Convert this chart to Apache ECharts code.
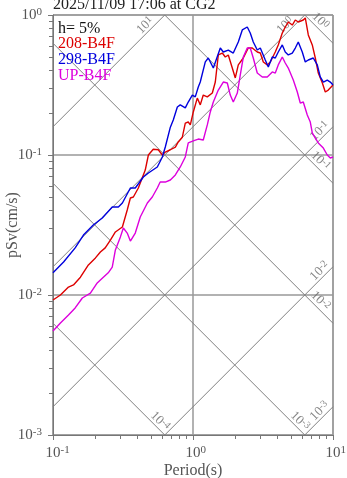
<!DOCTYPE html>
<html><head><meta charset="utf-8">
<script src="https://cdn.jsdelivr.net/npm/echarts@6/dist/echarts.min.js"></script>
<style>html,body{margin:0;padding:0;background:#fff}#c{width:347px;height:478px}</style>
</head><body><div id="c"></div>
<script>
const titleText = '2025/11/09 17:06 at CG2';
const dampingText = 'h= 5%';
const xName = 'Period(s)';
const yName = 'pSv(cm/s)';
const minorTicksX = [0.2,0.3,0.4,0.5,0.6,0.7,0.8,0.9,2,3,4,5,6,7,8,9];
const minorTicksY = [0.002,0.003,0.004,0.005,0.006,0.007,0.008,0.009,0.02,0.03,0.04,0.05,0.06,0.07,0.08,0.09,0.2,0.3,0.4,0.5,0.6,0.7,0.8,0.9];
const dispLevels = [1e-4, 1e-3, 1e-2, 1e-1, 1];   // Sd (cm)
const accLevels = [1e-3, 1e-2, 1e-1, 1, 10];      // Sa (cm/s2)

const periods208 = [0.1,0.113,0.129,0.14,0.157,0.179,0.201,0.218,0.236,0.257,0.279,0.313,0.339,0.357,0.375,0.407,0.42,0.456,0.48,0.52,0.565,0.604,0.634,0.689,0.748,0.785,0.839,0.881,0.925,0.957,1.005,1.073,1.127,1.184,1.265,1.374,1.443,1.516,1.619,1.701,1.787,1.908,2.005,2.106,2.287,2.481,2.652,2.878,3.025,3.178,3.393,3.566,3.87,4.064,4.343,4.56,4.793,5.119,5.379,5.649,6.134,6.339,6.661,7.112,7.475,7.852,8.395,8.81,9.25,10];
const sv208 = [0.00921,0.01,0.0114,0.0118,0.0134,0.0164,0.0184,0.0203,0.0217,0.0247,0.0282,0.0306,0.0405,0.0493,0.0501,0.0581,0.0631,0.0781,0.1,0.110,0.109,0.1,0.105,0.109,0.114,0.124,0.134,0.169,0.172,0.164,0.203,0.255,0.228,0.268,0.260,0.277,0.332,0.518,0.535,0.501,0.518,0.418,0.355,0.440,0.493,0.581,0.581,0.544,0.535,0.462,0.440,0.462,0.544,0.611,0.744,0.821,0.891,0.848,0.921,0.891,0.921,0.952,0.720,0.611,0.493,0.385,0.327,0.282,0.291,0.316];

const periods298 = [0.1,0.119,0.144,0.165,0.194,0.225,0.265,0.293,0.313,0.357,0.387,0.442,0.48,0.556,0.604,0.634,0.689,0.723,0.773,0.811,0.881,0.925,0.989,1.038,1.091,1.127,1.224,1.286,1.397,1.567,1.646,1.787,1.94,2.106,2.249,2.441,2.564,2.695,2.878,3.025,3.283,3.451,3.685,3.87,4.064,4.343,4.56,4.793,5.119,5.379,5.649,6.033,6.339,6.661,7.228,7.722,8.11,8.531,9.102,9.567,10];
const sv298 = [0.0144,0.0172,0.0217,0.0268,0.0316,0.0355,0.0425,0.0425,0.0454,0.0581,0.0581,0.0696,0.0744,0.0821,0.0968,0.114,0.158,0.178,0.220,0.228,0.217,0.239,0.268,0.260,0.306,0.332,0.462,0.493,0.418,0.581,0.544,0.562,0.535,0.641,0.782,0.821,0.744,0.641,0.562,0.581,0.477,0.425,0.501,0.493,0.544,0.611,0.544,0.518,0.535,0.581,0.641,0.544,0.462,0.477,0.493,0.440,0.361,0.332,0.343,0.332,0.316];

const periodsUP = [0.1,0.113,0.129,0.144,0.162,0.185,0.207,0.218,0.248,0.265,0.279,0.303,0.318,0.339,0.357,0.387,0.42,0.472,0.512,0.556,0.583,0.634,0.689,0.748,0.811,0.881,0.925,1.005,1.091,1.184,1.265,1.329,1.397,1.516,1.646,1.758,1.846,1.94,2.072,2.177,2.287,2.441,2.564,2.695,2.878,3.126,3.393,3.685,3.87,4.064,4.343,4.56,4.793,5.205,5.559,5.837,6.134,6.551,6.883,7.112,7.475,7.852,8.531,9.102,9.567,10];
const svUP = [0.00553,0.00631,0.0072,0.00808,0.00952,0.0103,0.0122,0.0128,0.0144,0.0158,0.021,0.026,0.0301,0.0277,0.0243,0.0277,0.0361,0.0454,0.0501,0.0581,0.0641,0.0641,0.0663,0.072,0.0821,0.0968,0.122,0.126,0.13,0.128,0.164,0.203,0.239,0.291,0.332,0.327,0.268,0.239,0.277,0.373,0.501,0.581,0.581,0.493,0.385,0.361,0.361,0.392,0.385,0.44,0.501,0.454,0.418,0.343,0.282,0.235,0.239,0.193,0.172,0.144,0.132,0.122,0.112,0.1,0.0952,0.0968];

const seriesDefs = [
  {name:'208-B4F', color:'#dd0000', T:periods208, v:sv208},
  {name:'298-B4F', color:'#0000dd', T:periods298, v:sv298},
  {name:'UP-B4F', color:'#dd00dd', T:periodsUP, v:svUP}
];

const FONT = 'Liberation Serif';
const TMIN = 0.1, TMAX = 10, VMIN = 0.001, VMAX = 1;
const TWO_PI = 2 * Math.PI;
const exp10 = v => Math.round(Math.log10(v));
const lineCol = '#808080';

// diagonal reference lines
const diagSeries = [];
const labelPts = [];
dispLevels.forEach(sd => {
  const t0 = Math.max(TMIN, TWO_PI * sd / VMAX), t1 = Math.min(TMAX, TWO_PI * sd / VMIN);
  if (t0 >= t1) return;
  diagSeries.push({type:'line', silent:true, symbol:'none', z:1, lineStyle:{color:lineCol, width:1},
    data:[[t0, TWO_PI*sd/t0],[t1, TWO_PI*sd/t1]]});
  const endsRight = t1 >= TMAX;
  const dx = endsRight ? 0.09 : 0.035, dy = endsRight ? 0.07 : 0.065;
  const tl = t1 / Math.pow(10, dx);
  labelPts.push({value:[tl, TWO_PI*sd/tl*Math.pow(10, dy)], e:exp10(sd), rot:-45});
});
accLevels.forEach(sa => {
  const t0 = Math.max(TMIN, TWO_PI * VMIN / sa), t1 = Math.min(TMAX, TWO_PI * VMAX / sa);
  if (t0 >= t1) return;
  diagSeries.push({type:'line', silent:true, symbol:'none', z:1, lineStyle:{color:lineCol, width:1},
    data:[[t0, sa*t0/TWO_PI],[t1, sa*t1/TWO_PI]]});
  const endsRight = t1 >= TMAX;
  const dx = endsRight ? 0.095 : 0.14, dy = 0.065;
  const tl = t1 / Math.pow(10, dx);
  labelPts.push({value:[tl, sa*tl/TWO_PI*Math.pow(10, dy)], e:exp10(sa), rot:45});
});

const diagLabelSeries = {
  type:'scatter', silent:true, symbolSize:0, z:2,
  data: labelPts.map(p => ({value:p.value, label:{rotate:p.rot, formatter:'{b|10}{s|' + p.e + '}'}})),
  label:{show:true, position:'inside', align:'center', verticalAlign:'middle', color:'#666',
    rich:{b:{fontFamily:FONT, fontSize:13, color:'#666', lineHeight:14},
          s:{fontFamily:FONT, fontSize:10, color:'#666', verticalAlign:'top', lineHeight:10}}}
};

const axisRich = {
  b:{fontFamily:FONT, fontSize:15, color:'#555', lineHeight:16},
  s:{fontFamily:FONT, fontSize:11, color:'#555', verticalAlign:'top', lineHeight:11},
  h:{fontFamily:FONT, fontSize:11, color:'rgba(0,0,0,0)', verticalAlign:'top', lineHeight:11}
};

const chart = echarts.init(document.getElementById('c'));
chart.setOption({
  animation:false,
  backgroundColor:'#fff',
  title:[
    {text:titleText, left:53, top:-3, padding:0, textStyle:{fontFamily:FONT, fontSize:16, fontWeight:'normal', color:'#222'}},
    {text:dampingText, left:58, top:21, padding:0, textStyle:{fontFamily:FONT, fontSize:16, fontWeight:'normal', color:'#111'}}
  ],
  legend:{
    orient:'vertical', left:53, top:36, padding:0, itemGap:0, itemWidth:0, itemHeight:10, icon:'none',
    textStyle:{fontFamily:FONT, fontSize:16, lineHeight:15},
    data: seriesDefs.map(s => ({name:s.name, textStyle:{color:s.color}}))
  },
  grid:{left:53, right:14, top:15, bottom:43, containLabel:false, outerBoundsMode:'none',
    show:true, borderColor:'#777', borderWidth:1, backgroundColor:'transparent'},
  xAxis:[
    {type:'log', logBase:10, min:TMIN, max:TMAX, name:xName, nameLocation:'middle', nameGap:28, nameMoveOverlap:false,
     nameTextStyle:{fontFamily:FONT, fontSize:16, color:'#555'},
     axisLine:{show:true, lineStyle:{color:'#777'}},
     axisTick:{show:true, inside:false, length:5, lineStyle:{color:'#777'}},
     axisLabel:{margin:10, formatter:v => '{h|' + exp10(v) + '}{b|10}{s|' + exp10(v) + '}', rich:axisRich},
     splitLine:{show:true, lineStyle:{color:'#999', width:1.5}}},
    {type:'log', logBase:10, min:TMIN, max:TMAX, position:'bottom',
     axisLine:{show:false}, axisLabel:{show:false}, splitLine:{show:false},
     axisTick:{show:true, inside:false, length:4, customValues:minorTicksX, lineStyle:{color:'#777'}}}
  ],
  yAxis:[
    {type:'log', logBase:10, min:VMIN, max:VMAX, name:yName, nameLocation:'middle', nameGap:32, nameMoveOverlap:false,
     nameTextStyle:{fontFamily:FONT, fontSize:16, color:'#555'},
     axisLine:{show:true, lineStyle:{color:'#777'}},
     axisTick:{show:true, inside:false, length:5, lineStyle:{color:'#777'}},
     axisLabel:{margin:11, formatter:v => '{b|10}{s|' + exp10(v) + '}', rich:axisRich},
     splitLine:{show:true, lineStyle:{color:'#999', width:1.5}}},
    {type:'log', logBase:10, min:VMIN, max:VMAX, position:'left',
     axisLine:{show:false}, axisLabel:{show:false}, splitLine:{show:false},
     axisTick:{show:true, inside:false, length:4, customValues:minorTicksY, lineStyle:{color:'#777'}}}
  ],
  series: diagSeries.concat([diagLabelSeries]).concat(seriesDefs.map(s => ({
    name:s.name, type:'line', symbol:'none', z:5, color:s.color,
    lineStyle:{color:s.color, width:1.4},
    data: s.T.map((t, i) => [t, s.v[i]])
  })))
});
</script></body></html>
